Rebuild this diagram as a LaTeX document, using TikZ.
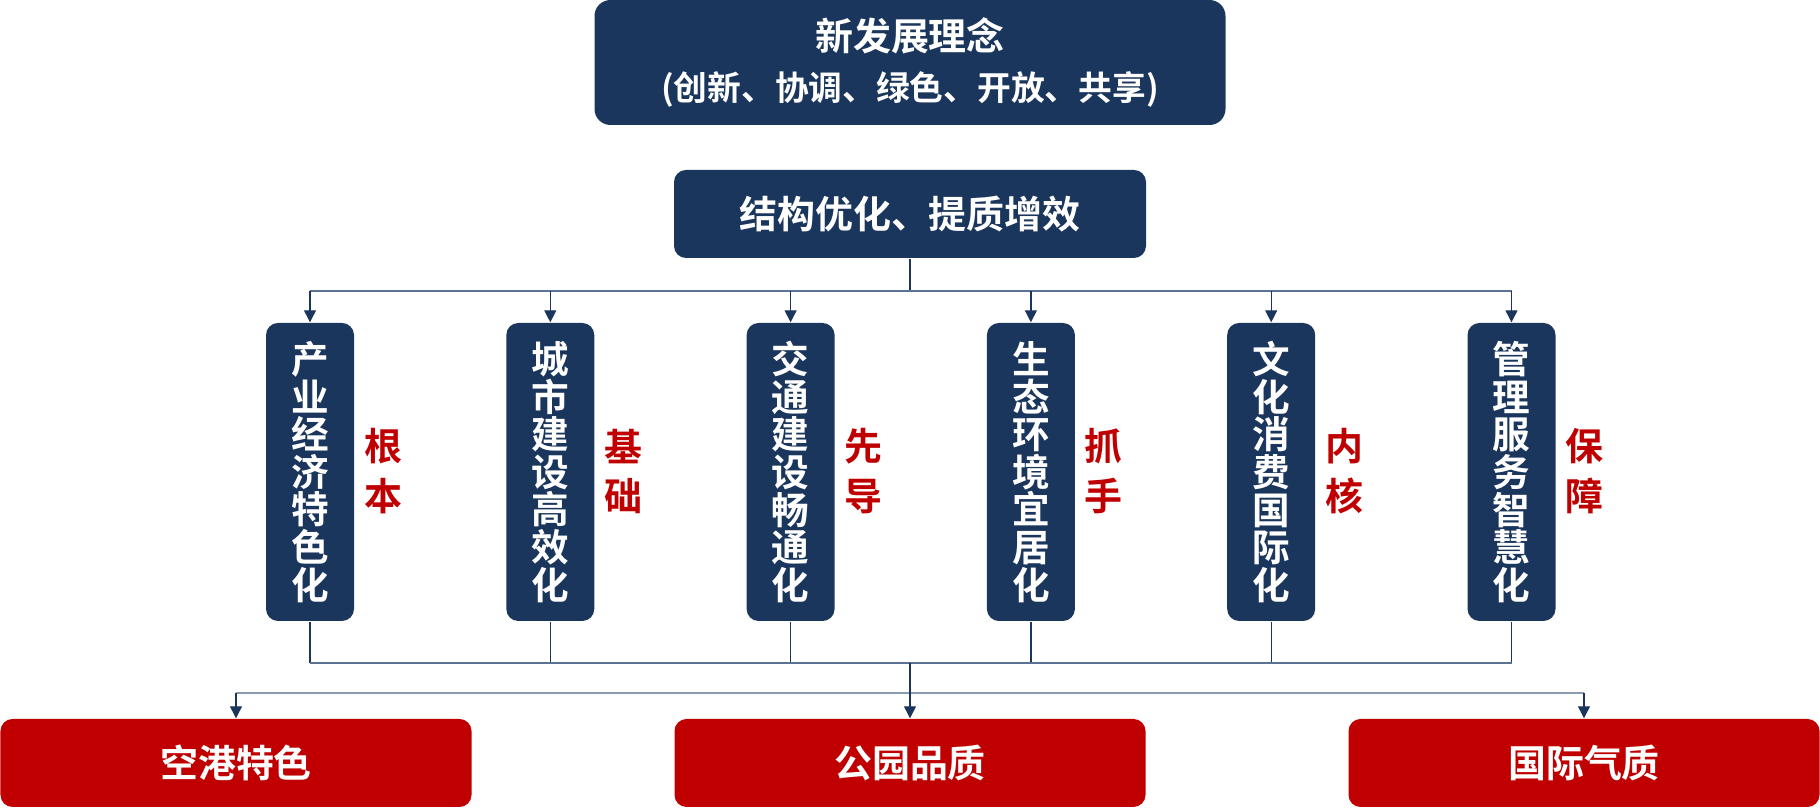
\documentclass[tikz,border=0pt]{standalone}
\usepackage{fontspec}
\setmainfont{Noto Sans CJK SC}[BoldFont={Noto Sans CJK SC Bold}]
\usetikzlibrary{arrows.meta}
\definecolor{navy}{HTML}{1B365D}
\definecolor{deepred}{HTML}{C00000}
\definecolor{busgray}{HTML}{5B7292}
\definecolor{lightbus}{HTML}{8A9BB0}
\tikzset{
  box/.style={rectangle, rounded corners=1.2mm, fill=navy, text=white, align=center, inner sep=0pt,
    font=\fontsize{10.8pt}{14.5pt}\selectfont\bfseries},
  pillar/.style={box, minimum width=8.8mm, minimum height=29.8mm, font=\fontsize{10.7pt}{10.7pt}\selectfont\bfseries},
  result/.style={box, fill=deepred, minimum width=47.1mm, minimum height=8.8mm},
  role/.style={text=deepred, align=center, font=\fontsize{10.8pt}{14.2pt}\selectfont\bfseries},
  link/.style={navy, line width=0.37pt},
  busline/.style={busgray, line width=0.6pt},
  arrow/.style={link, -{Triangle[width=1.2mm, length=1.2mm]}}
}
\begin{document}
\begin{tikzpicture}
    \useasboundingbox (0,0) rectangle (18.2,-8.09);
    % top blocks
    \node[box, rounded corners=1.6mm, minimum width=63.1mm, minimum height=12.5mm] (idea) at (9.10,-0.625)
        {新发展理念\\{\fontsize{9.6pt}{9.6pt}\selectfont (创新、协调、绿色、开放、共享)}};
    \node[box, minimum width=47.2mm, minimum height=8.8mm] (goal) at (9.10,-2.14) {结构优化、提质增效};
    % six pillars with their roles
    \foreach \x/\i/\txt/\rol in {3.10/1/{产\\业\\经\\济\\特\\色\\化}/{根\\本},
                                5.503/2/{城\\市\\建\\设\\高\\效\\化}/{基\\础},
                                7.906/3/{交\\通\\建\\设\\畅\\通\\化}/{先\\导},
                                10.309/4/{生\\态\\环\\境\\宜\\居\\化}/{抓\\手},
                                12.712/5/{文\\化\\消\\费\\国\\际\\化}/{内\\核},
                                15.115/6/{管\\理\\服\\务\\智\\慧\\化}/{保\\障}} {
        \node[pillar] (p\i) at (\x,-4.72) {\txt};
        \node[role] (r\i) at (\x+0.73,-4.715) {\rol};
    }
    % bottom results
    \node[result] (port) at (2.36,-7.63) {空港特色};
    \node[result] (park) at (9.10,-7.63) {公园品质};
    \node[result] (intl) at (15.84,-7.63) {国际气质};
    % connectors
    \coordinate (split) at (9.10,-2.91);
    \coordinate (join) at (9.10,-6.63);
    \coordinate (fork) at (9.10,-6.93);
    \draw[link] (goal.south) -- (split);
    \draw[busline] (p1 |- split) -- (p6 |- split);
    \foreach \i in {1,...,6} {
        \draw[arrow] (p\i |- split) -- (p\i.north);
        \draw[link] (p\i.south) -- (p\i |- join);
    }
    \draw[busline] (p1 |- join) -- (p6 |- join);
    \draw[busline, lightbus] (port |- fork) -- (intl |- fork);
    \draw[arrow] (join) -- (park.north);
    \draw[arrow] (port |- fork) -- (port.north);
    \draw[arrow] (intl |- fork) -- (intl.north);
\end{tikzpicture}
\end{document}
